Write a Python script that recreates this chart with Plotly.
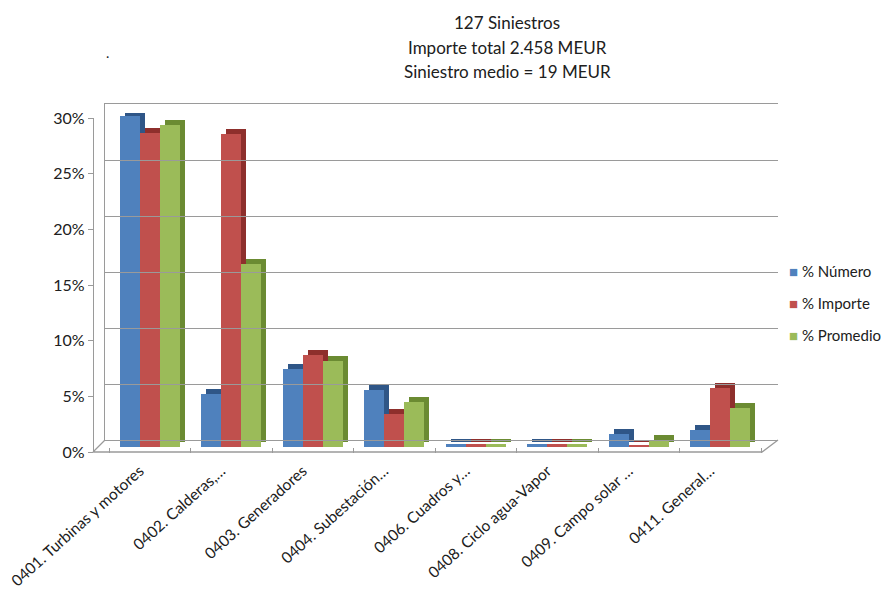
import plotly.graph_objects as go

# --- data -------------------------------------------------------------
categories = [
    "0401. Turbinas y motores",
    "0402. Calderas,…",
    "0403. Generadores",
    "0404. Subestación…",
    "0406. Cuadros y…",
    "0408. Ciclo agua-Vapor",
    "0409. Campo solar …",
    "0411. General…",
]
pct_numero = [29.7, 4.8, 7.0, 5.1, 0.3, 0.3, 1.2, 1.5]
pct_importe = [28.2, 28.1, 8.3, 3.0, 0.3, 0.3, 0.1, 5.3]
pct_promedio = [28.9, 16.4, 7.7, 4.0, 0.3, 0.3, 0.6, 3.5]
series_names = ["% Número", "% Importe", "% Promedio"]
title_lines = ["127 Siniestros", "Importe total 2.458 MEUR", "Siniestro medio = 19 MEUR"]
y_ticks = [0, 5, 10, 15, 20, 25, 30]

# --- styling ----------------------------------------------------------
W, H = 893, 601
FONT = "Lato"
TXT = "#202020"
GRID = "#9a9a9a"
face_colors = ["#4F81BD", "#C0504D", "#9BBB59"]
side_colors = ["#2F5687", "#8E2F2C", "#6B8B32"]

bar_w = 0.245          # width of one column front face (category units)
depth_x = 0.06         # horizontal depth of the pseudo-3D side
depth_y = 0.45         # vertical depth of the pseudo-3D top (in %)


def px_x(p):
    return p / W


def px_y(p):
    return 1 - p / H


fig = go.Figure()
series = [pct_numero, pct_importe, pct_promedio]

# darker "side/top" faces first so the front faces sit on top
for k, vals in enumerate(series):
    off = -1.5 * bar_w + k * bar_w
    fig.add_trace(go.Bar(
        x=categories, y=vals, base=[depth_y] * len(vals),
        offset=off + depth_x, width=bar_w,
        marker=dict(color=side_colors[k], line=dict(width=0)),
        showlegend=False, hoverinfo="skip",
    ))

for k, vals in enumerate(series):
    off = -1.5 * bar_w + k * bar_w
    fig.add_trace(go.Bar(
        x=categories, y=vals, name=series_names[k],
        offset=off, width=bar_w,
        marker=dict(color=face_colors[k], line=dict(width=0)),
        showlegend=False,
    ))

# invisible helpers to host the back-wall grid and the front value axis
fig.add_trace(go.Scatter(x=[0, 1], y=[0, 30], xaxis="x2", yaxis="y2",
                         mode="markers", marker=dict(opacity=0),
                         showlegend=False, hoverinfo="skip"))
fig.add_trace(go.Scatter(x=[0, 1], y=[0, 30], xaxis="x2", yaxis="y3",
                         mode="markers", marker=dict(opacity=0),
                         showlegend=False, hoverinfo="skip"))

x_dom = [px_x(109), px_x(761)]

fig.update_layout(
    width=W, height=H,
    margin=dict(l=0, r=0, t=0, b=0, autoexpand=False),
    paper_bgcolor="white", plot_bgcolor="rgba(0,0,0,0)",
    barmode="overlay", bargap=0, showlegend=False,
    font=dict(family=FONT, size=13, color=TXT),
    xaxis=dict(
        domain=x_dom, range=[-0.5, 7.5], type="category", automargin=False,
        tickangle=-42, tickfont=dict(size=15.5, color=TXT),
        ticklabelshift=-10, ticklabelstandoff=11,
        showline=False, showgrid=False, zeroline=False,
        ticks="outside", tickson="boundaries", ticklen=5, tickcolor=GRID,
    ),
    yaxis=dict(
        domain=[px_y(447), px_y(113)], range=[0, 30], automargin=False,
        showgrid=False, zeroline=False, showticklabels=False, showline=False,
    ),
    # back wall: box lines and grid
    xaxis2=dict(domain=[px_x(105), px_x(778)], range=[0, 1], anchor="y2",
                automargin=False, showticklabels=False, ticks="",
                showgrid=False, zeroline=False,
                showline=True, mirror=True, linecolor=GRID, linewidth=1.3),
    yaxis2=dict(
        domain=[px_y(440), px_y(104)], range=[0, 30], anchor="x2",
        automargin=False,
        tickvals=y_ticks, showticklabels=False, ticks="",
        showgrid=True, gridcolor=GRID, gridwidth=1.3,
        zeroline=False, showline=True, linecolor=GRID, linewidth=1.3,
    ),
    # front value axis with labels
    yaxis3=dict(
        domain=[px_y(452), px_y(118)], range=[0, 30], automargin=False,
        anchor="free", position=px_x(93),
        tickvals=y_ticks, ticktext=[f"{v}%" for v in y_ticks],
        tickfont=dict(size=16, color=TXT),
        ticks="outside", ticklen=5, tickcolor=GRID,
        showgrid=False, zeroline=False,
        showline=True, linecolor=GRID, linewidth=1.3,
    ),
)

# floor outline (front edge and side edges)
floor = (f"M {px_x(93)} {px_y(452)} L {px_x(762)} {px_y(452)} "
         f"L {px_x(778)} {px_y(440)} M {px_x(93)} {px_y(452)} L {px_x(105)} {px_y(440)}")
fig.add_shape(type="path", path=floor, xref="paper", yref="paper",
              line=dict(color=GRID, width=1.3), layer="below")

# legend: small coloured squares followed by the series names
for k, name in enumerate(series_names):
    fig.add_annotation(
        text=f"<span style='color:{face_colors[k]}'>■</span> {name}",
        x=px_x(787), y=px_y(271 + 32 * k), xref="paper", yref="paper",
        xanchor="left", yanchor="middle", showarrow=False,
        font=dict(size=15, color=TXT),
    )

for i, line in enumerate(title_lines):
    fig.add_annotation(text=line, x=px_x(507), y=px_y(23 + 24 * i),
                       xref="paper", yref="paper", showarrow=False,
                       xanchor="center", yanchor="middle",
                       font=dict(size=17, color=TXT))

fig.add_annotation(text=".", x=px_x(104), y=px_y(42), xref="paper", yref="paper",
                   showarrow=False, font=dict(size=14, color=TXT))

fig.write_html("out.html")
